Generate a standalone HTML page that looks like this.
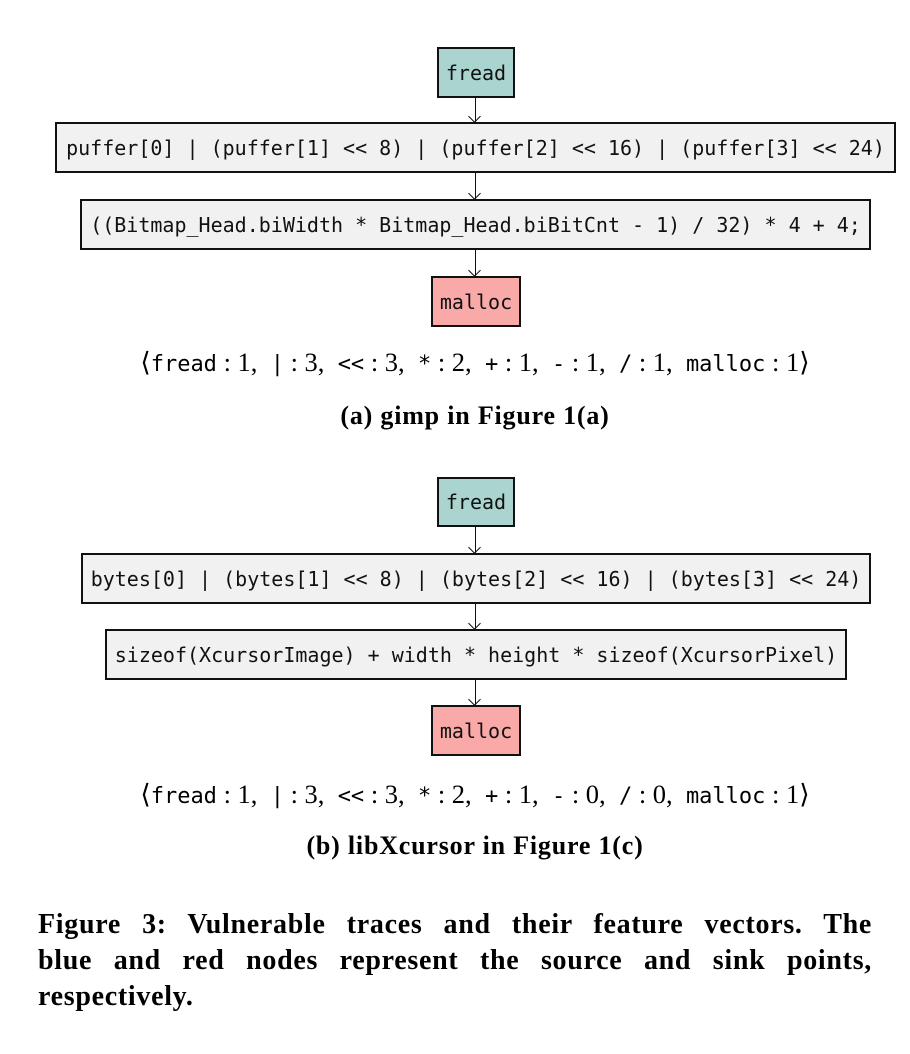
<!DOCTYPE html>
<html><head><meta charset="utf-8">
<style>
body{margin:0;width:910px;height:1054px;background:#fff;position:relative;overflow:hidden;font-family:"Liberation Serif",serif;}
.box{position:absolute;box-sizing:border-box;border:2.5px solid #111;font-family:"DejaVu Sans Mono","Liberation Mono",monospace;font-size:20px;display:flex;align-items:center;justify-content:center;white-space:pre;color:#111;}
.src{background:#a9d4d0;}
.mid{background:#f1f1f1;}
.snk{background:#f9a9a8;}
.arr{position:absolute;left:475px;width:1.3px;background:#111;}
.arr:after{content:"";position:absolute;left:-5px;bottom:0;width:8px;height:8px;border-right:1.3px solid #111;border-bottom:1.3px solid #111;transform:rotate(45deg);transform-origin:center;margin-bottom:1px;}
.vec{position:absolute;left:20px;width:910px;text-align:center;font-size:26.5px;white-space:pre;}
.vec .m{font-family:"DejaVu Sans Mono","Liberation Mono",monospace;font-size:22px;}
.cap{position:absolute;left:20px;width:910px;text-align:center;font-size:26px;letter-spacing:0.8px;font-weight:bold;}
.fl{position:absolute;left:38px;width:834px;font-size:28px;letter-spacing:0.7px;font-weight:bold;line-height:36px;white-space:nowrap;}
.j{text-align:justify;text-align-last:justify;white-space:normal;}
</style></head><body>
<div class="box src" style="left:437px;top:47px;width:78px;height:51px;">fread</div>
<div class="arr" style="top:98px;height:24px;"></div>
<div class="box mid" style="left:55px;top:122px;width:841px;height:51px;">puffer[0] | (puffer[1] &lt;&lt; 8) | (puffer[2] &lt;&lt; 16) | (puffer[3] &lt;&lt; 24)</div>
<div class="arr" style="top:173px;height:26px;"></div>
<div class="box mid" style="left:80px;top:199px;width:791px;height:51px;">((Bitmap_Head.biWidth * Bitmap_Head.biBitCnt - 1) / 32) * 4 + 4;</div>
<div class="arr" style="top:250px;height:26px;"></div>
<div class="box snk" style="left:431px;top:276px;width:90px;height:51px;">malloc</div>
<div class="vec" style="top:347px;">⟨<span class="m">fread</span> : 1,  <span class="m">|</span> : 3,  <span class="m">&lt;&lt;</span> : 3,  <span class="m">*</span> : 2,  <span class="m">+</span> : 1,  <span class="m">-</span> : 1,  <span class="m">/</span> : 1,  <span class="m">malloc</span> : 1⟩</div>
<div class="cap" style="top:401px;">(a) gimp in Figure 1(a)</div>

<div class="box src" style="left:437px;top:477px;width:78px;height:50px;">fread</div>
<div class="arr" style="top:527px;height:26px;"></div>
<div class="box mid" style="left:81px;top:553px;width:790px;height:51px;">bytes[0] | (bytes[1] &lt;&lt; 8) | (bytes[2] &lt;&lt; 16) | (bytes[3] &lt;&lt; 24)</div>
<div class="arr" style="top:604px;height:25px;"></div>
<div class="box mid" style="left:105px;top:629px;width:742px;height:51px;">sizeof(XcursorImage) + width * height * sizeof(XcursorPixel)</div>
<div class="arr" style="top:680px;height:25px;"></div>
<div class="box snk" style="left:431px;top:705px;width:90px;height:51px;">malloc</div>
<div class="vec" style="top:779px;">⟨<span class="m">fread</span> : 1,  <span class="m">|</span> : 3,  <span class="m">&lt;&lt;</span> : 3,  <span class="m">*</span> : 2,  <span class="m">+</span> : 1,  <span class="m">-</span> : 0,  <span class="m">/</span> : 0,  <span class="m">malloc</span> : 1⟩</div>
<div class="cap" style="top:831px;">(b) libXcursor in Figure 1(c)</div>

<div>
<div class="fl j" style="top:907px;">Figure 3: Vulnerable traces and their feature vectors. The</div>
<div class="fl j" style="top:943px;">blue and red nodes represent the source and sink points,</div>
<div class="fl" style="top:979px;">respectively.</div>
</div>
</body></html>
